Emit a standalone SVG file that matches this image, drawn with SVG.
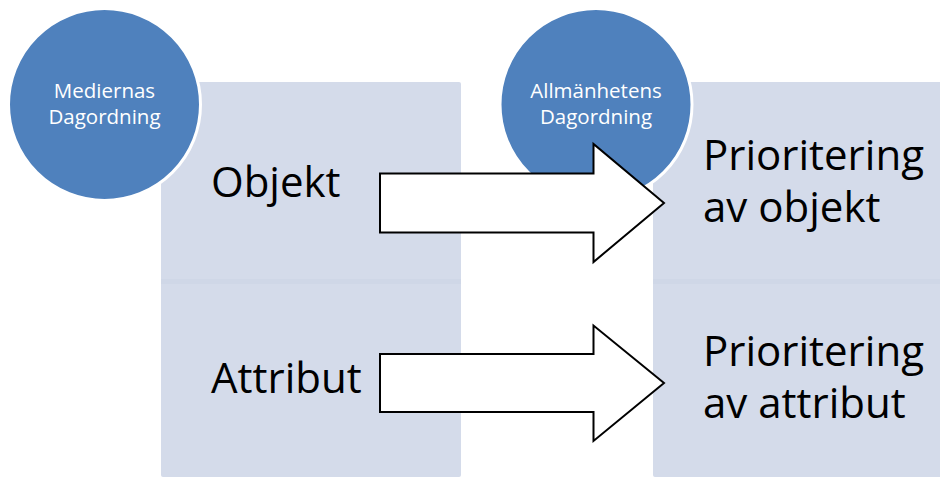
<svg xmlns="http://www.w3.org/2000/svg" width="940" height="477" viewBox="0 0 940 477">
<style>
.panel{fill:#d4dbea}
.band{fill:#cfd7e7}
.circ{fill:#4f81bd;stroke:#ffffff;stroke-width:3}
.ctext{font-family:"Open Sans","Liberation Sans",sans-serif;font-size:20.5px;fill:#ffffff;text-anchor:middle}
.big{font-family:"Open Sans","Liberation Sans",sans-serif;font-size:42px;fill:#000000}
.arrow{fill:#ffffff;stroke:#000000;stroke-width:2;stroke-linejoin:miter}
</style>
<rect width="940" height="477" fill="#ffffff"/>
<g id="media-column">
<rect class="panel" x="161" y="82" width="300" height="395" rx="2"/>
<rect class="band" x="161" y="279" width="300" height="5"/>
</g>
<g id="public-column">
<rect class="panel" x="653" y="82" width="300" height="395" rx="2"/>
<rect class="band" x="653" y="279" width="300" height="5"/>
</g>
<g id="media-agenda">
<circle class="circ" cx="104.5" cy="104.5" r="96"/>
<text class="ctext" x="104.5" y="98">Mediernas</text>
<text class="ctext" x="104.5" y="124">Dagordning</text>
</g>
<g id="public-agenda">
<circle class="circ" cx="596" cy="104.5" r="96"/>
<text class="ctext" x="596" y="98">Allmänhetens</text>
<text class="ctext" x="596" y="124">Dagordning</text>
</g>
<g id="connectors">
<polygon class="arrow" points="380,173.5 593.5,173.5 593.5,144 664,203 593.5,262 593.5,232.5 380,232.5"/>
<polygon class="arrow" points="380,354 593.5,354 593.5,325.5 664,383 593.5,441 593.5,412 380,412"/>
</g>
<g id="objekt">
<text class="big" x="211" y="197">Objekt</text>
</g>
<g id="attribut">
<text class="big" x="211" y="393">Attribut</text>
</g>
<g id="prio-objekt">
<text class="big" x="703" y="170">Prioritering</text>
<text class="big" x="703" y="222">av objekt</text>
</g>
<g id="prio-attribut">
<text class="big" x="703" y="366">Prioritering</text>
<text class="big" x="703" y="418">av attribut</text>
</g>
</svg>
